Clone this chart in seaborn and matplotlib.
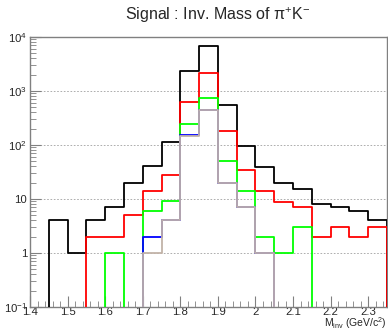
import numpy as np
import pandas as pd
import matplotlib
matplotlib.use("Agg")
import matplotlib.pyplot as plt
from matplotlib.ticker import FixedLocator, LogLocator, FuncFormatter, NullFormatter
import seaborn as sns

sns.set_style("white")
plt.rcParams['font.family'] = ['Liberation Sans', 'DejaVu Sans']

# bin low edges (GeV/c^2), bin width 0.05, last edge 2.35
bin_lo = [1.40, 1.45, 1.50, 1.55, 1.60, 1.65, 1.70, 1.75, 1.80, 1.85,
          1.90, 1.95, 2.00, 2.05, 2.10, 2.15, 2.20, 2.25, 2.30]
bin_hi_last = 2.35

black = [0, 4, 1, 4, 7, 20, 40, 114, 2350, 6800,
         560, 97, 39, 20, 15, 8, 7.2, 6, 4]
red = [0, 0, 0, 2, 2, 5, 14, 28, 625, 2120,
       180, 34, 14, 8.7, 7, 2, 3, 2, 3]
green = [0, 0, 0, 0, 1, 0, 6, 9, 250, 750,
         51, 14, 2, 1, 3, 0, 0, 0, 0]
blue = [0, 0, 0, 0, 0, 0, 2, 4, 155, 445,
        20, 7, 1, 0, 0, 0, 0, 0, 0]
brown = [0, 0, 0, 0, 0, 0, 1, 4, 147, 445,
         20, 7, 1, 0, 0, 0, 0, 0, 0]

series = {"black": (black, "black"), "red": (red, "#ff0000"),
          "green": (green, "#00ff00"), "blue": (blue, "#0000ff"),
          "brown": (brown, "#c2b3a8")}

edges = bin_lo + [bin_hi_last]

fig = plt.figure(figsize=(3.88, 3.32), dpi=100)
ax = fig.add_axes([30 / 388, 25 / 332, 357 / 388, 270 / 332])

for name, (vals, col) in series.items():
    d = pd.DataFrame({"m": edges, "n": vals + [vals[-1]]})
    sns.lineplot(data=d, x="m", y="n", drawstyle="steps-post", color=col,
                 lw=1.3, estimator=None, sort=False, ax=ax, zorder=3)
    # ROOT-style drops at the histogram ends
    ax.vlines(edges[-1], 1e-3, vals[-1], color=col, lw=1.3, zorder=3)

ax.set_yscale("log", nonpositive="clip")
ax.set_xlim(1.4, 2.35)
ax.set_ylim(0.1, 1e4)

ax.xaxis.set_major_locator(FixedLocator([1.4, 1.5, 1.6, 1.7, 1.8, 1.9, 2.0, 2.1, 2.2, 2.3]))
ax.xaxis.set_minor_locator(FixedLocator(np.arange(1.40, 2.351, 0.02)))
ax.xaxis.set_major_formatter(FuncFormatter(lambda v, p: "%g" % round(v, 2)))

ax.yaxis.set_major_locator(LogLocator(base=10, numticks=10))
ax.yaxis.set_minor_locator(LogLocator(base=10, subs=np.arange(2, 10), numticks=10))
ax.yaxis.set_minor_formatter(NullFormatter())


def yfmt(v, p):
    e = int(round(np.log10(v)))
    if e == 0:
        return "1"
    if e == 1:
        return "10"
    return r"$\mathregular{10^{%d}}$" % e


ax.yaxis.set_major_formatter(FuncFormatter(yfmt))

ax.tick_params(axis="both", which="both", direction="in", labelsize=8.2,
               color="#808080", top=False, right=False, bottom=True, left=True)
ax.tick_params(axis="x", which="major", length=8, pad=0.3)
ax.tick_params(axis="x", which="minor", length=4)
ax.tick_params(axis="y", which="major", length=8, pad=2)
ax.tick_params(axis="y", which="minor", length=4)

ax.grid(True, axis="y", which="major", ls=(0, (2, 2)), color="#a0a0a0", lw=0.6)
ax.grid(False, axis="x")
for s in ax.spines.values():
    s.set_color("#808080")
    s.set_linewidth(1.0)

ax.set_xlabel(r"M$_{\mathregular{inv}}$ (GeV/c$^{\mathregular{2}}$)", fontsize=7.5)
ax.xaxis.set_label_coords(1.0, -0.0895)
ax.xaxis.label.set_ha("right")
ax.xaxis.label.set_va("bottom")
ax.set_ylabel("")
fig.text(218 / 388, 1 - 15 / 332, r"Signal : Inv. Mass of $\mathregular{\pi^{+}K^{-}}$",
         ha="center", va="center", fontsize=11.5)

fig.savefig("out.png", dpi=100)
